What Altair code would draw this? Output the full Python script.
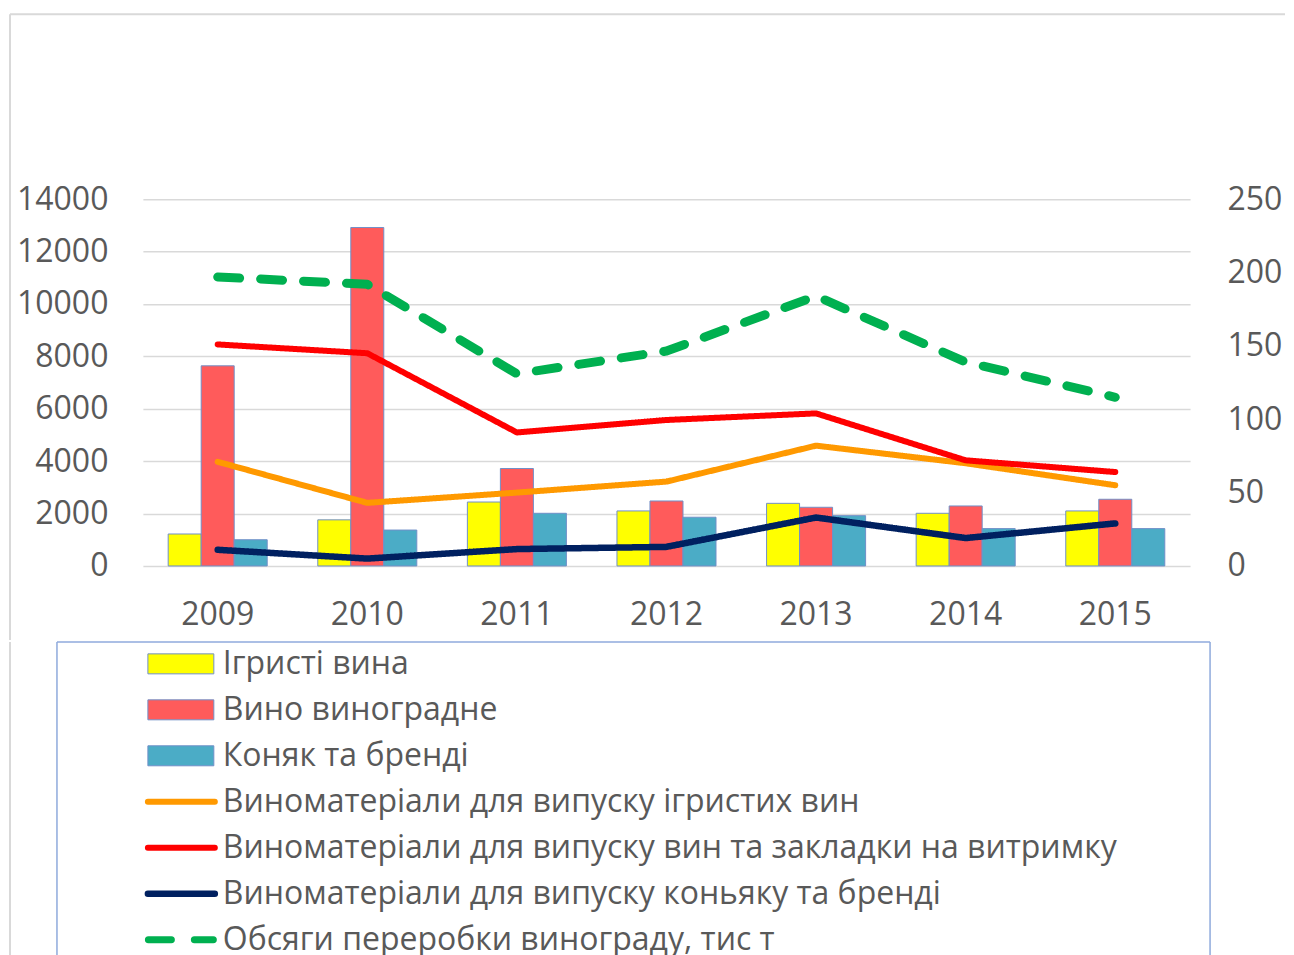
import altair as alt
import pandas as pd

years = ["2009", "2010", "2011", "2012", "2013", "2014", "2015"]

bar_names = ["Ігристі вина", "Вино виноградне", "Коняк та бренді"]
sparkling = [1220, 1760, 2440, 2100, 2390, 2010, 2100]
grape_wine = [7640, 12920, 3720, 2480, 2240, 2290, 2545]
brandy = [1000, 1370, 2010, 1860, 1920, 1425, 1425]

line_names = [
    "Виноматеріали для випуску ігристих вин",
    "Виноматеріали для випуску вин та закладки на витримку",
    "Виноматеріали для випуску коньяку та бренді",
    "Обсяги переробки винограду, тис т",
]
wm_sparkling = [71, 43, 50, 57.5, 82, 70, 55]
wm_wine = [151, 145, 91, 99.5, 104, 72, 64]
wm_brandy = [11, 5, 11.5, 13, 33, 19, 29]
grapes = [197, 192, 131, 146.5, 184, 139, 115]

left_ticks = [0, 2000, 4000, 6000, 8000, 10000, 12000, 14000]
right_ticks = [0, 50, 100, 150, 200, 250]

bar_colors = ["#FFFF00", "#FF5B5B", "#4BACC6"]
line_colors = ["#FF9900", "#FF0000", "#002060", "#00B050"]
line_widths = [6, 6, 6.5, 9]
line_dashes = [[1, 0], [1, 0], [1, 0], [22, 21]]

FONT = "Open Sans"
TXT = "#595959"
GRID = "#D9D9D9"
W, H = 1048, 367

bar_df = pd.DataFrame({
    "year": years * 3,
    "series": [n for n in bar_names for _ in years],
    "value": sparkling + grape_wine + brandy,
})
line_vals = [wm_sparkling, wm_wine, wm_brandy, grapes]
line_df = pd.DataFrame({
    "year": years * 4,
    "series": [n for n in line_names for _ in years],
    "value": [v for vals in line_vals for v in vals],
})

x_enc = alt.X(
    "year:N",
    sort=years,
    scale=alt.Scale(paddingInner=0.338, paddingOuter=0.169),
    axis=alt.Axis(title=None, labelAngle=0, labelFontSize=32, labelFont=FONT,
                  labelColor=TXT, labelPadding=34, ticks=False, domain=False),
)

bar_color_scale = alt.Scale(domain=bar_names, range=bar_colors)

bars = alt.Chart(bar_df).mark_bar(stroke="#7090C8", strokeWidth=1).encode(
    x=x_enc,
    xOffset=alt.XOffset("series:N", sort=bar_names,
                        scale=alt.Scale(domain=bar_names, paddingInner=0, paddingOuter=0)),
    y=alt.Y("value:Q", scale=alt.Scale(domain=[0, 14000]),
            axis=alt.Axis(values=left_ticks, format="d", orient="left", title=None,
                          labelFontSize=32, labelFont=FONT, labelColor=TXT,
                          labelPadding=35, ticks=False, domain=False,
                          gridColor=GRID, gridWidth=1.5)),
    color=alt.Color("series:N", scale=bar_color_scale, legend=None),
)

y_right = alt.Y("value:Q", scale=alt.Scale(domain=[0, 250]),
                axis=alt.Axis(values=right_ticks, format="d", orient="right", title=None,
                              labelFontSize=32, labelFont=FONT, labelColor=TXT,
                              labelPadding=37, labelAlign="left", ticks=False,
                              domain=False, grid=False))

line_layers = []
for name, col, w, d in zip(line_names, line_colors, line_widths, line_dashes):
    line_layers.append(
        alt.Chart(line_df).transform_filter(alt.datum.series == name)
        .mark_line(color=col, strokeWidth=w, strokeDash=d, strokeCap="round", strokeJoin="round")
        .encode(x=x_enc, y=y_right)
    )
lines = alt.layer(*line_layers)

dummy = pd.DataFrame({"a": [0]})
frame_top = alt.Chart(dummy).mark_rule(color=GRID, strokeWidth=2).encode(
    x=alt.value(-133), x2=alt.value(1143), y=alt.value(-185), y2=alt.value(-185))
frame_left = alt.Chart(dummy).mark_rule(color=GRID, strokeWidth=2).encode(
    x=alt.value(-133), x2=alt.value(-133), y=alt.value(-185), y2=alt.value(441))
frame = alt.layer(frame_top, frame_left)

top = alt.layer(bars, lines, frame).resolve_scale(y="independent").properties(width=W, height=H)

# legend panel
all_names = bar_names + line_names
leg_df = pd.DataFrame({"name": all_names, "idx": list(range(7))})
LH = 330
ypos = alt.Y("idx:Q", scale=alt.Scale(domain=[0, 6], range=[22, 298]), axis=None)

leg_bars = alt.Chart(leg_df).transform_filter(alt.datum.idx < 3).mark_point(
    shape="M-1,-0.303H1V0.303H-1Z", filled=True, size=4356, stroke="#7090C8",
    strokeWidth=1, opacity=1).encode(
    x=alt.value(38), y=ypos,
    fill=alt.Fill("name:N", scale=bar_color_scale, legend=None))

leg_lines = []
for i, (name, col, w, d) in enumerate(zip(line_names, line_colors, line_widths, line_dashes)):
    if i == 3:
        x0, x1, dash = 5.5, 70.5, [23, 23]
    else:
        x0, x1, dash = 5, 72, [1, 0]
    leg_lines.append(
        alt.Chart(leg_df).transform_filter(alt.datum.name == name)
        .mark_rule(color=col, strokeWidth=min(w, 7), strokeDash=dash, strokeCap="round")
        .encode(x=alt.value(x0), x2=alt.value(x1), y=ypos)
    )

leg_text = alt.Chart(leg_df).mark_text(
    align="left", baseline="middle", fontSize=32, font=FONT, color=TXT
).encode(x=alt.value(80), y=ypos, text="name:N")

BOX = "#8FAADC"
box_top = alt.Chart(dummy).mark_rule(color=BOX, strokeWidth=1.5).encode(
    x=alt.value(-86), x2=alt.value(1068), y=alt.value(0), y2=alt.value(0))
box_left = alt.Chart(dummy).mark_rule(color=BOX, strokeWidth=1.5).encode(
    x=alt.value(-86), x2=alt.value(-86), y=alt.value(0), y2=alt.value(LH))
box_right = alt.Chart(dummy).mark_rule(color=BOX, strokeWidth=1.5).encode(
    x=alt.value(1068), x2=alt.value(1068), y=alt.value(0), y2=alt.value(LH))
frame_left2 = alt.Chart(dummy).mark_rule(color=GRID, strokeWidth=2).encode(
    x=alt.value(-133), x2=alt.value(-133), y=alt.value(0), y2=alt.value(LH))

legend = alt.layer(leg_bars, *leg_lines, leg_text, box_top, box_left, box_right,
                   frame_left2).properties(width=1068, height=LH)

chart = alt.vconcat(top, legend, spacing=0).properties(
    padding={"left": 1, "top": 5, "right": 0, "bottom": 0},
    background="white",
).configure_view(stroke=None)

chart.save("out.html", embed_options={"renderer": "svg", "actions": False})
